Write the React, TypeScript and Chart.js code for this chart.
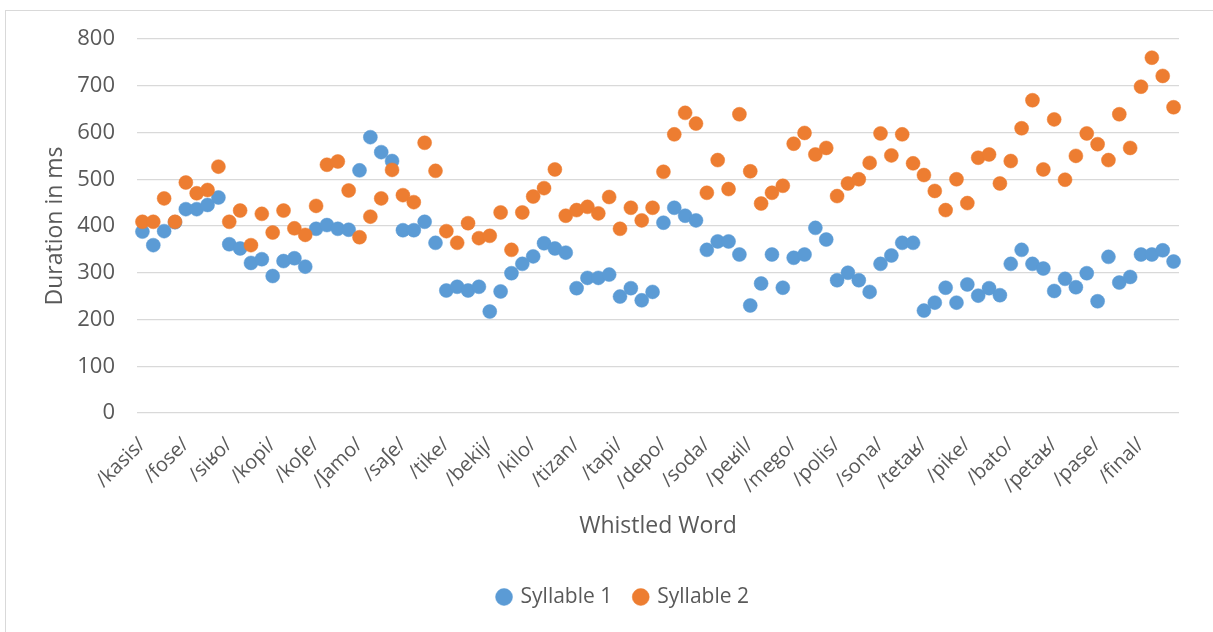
import React, { useEffect, useRef } from "react";
import { Chart, registerables } from "chart.js";

Chart.register(...registerables);

const words = [
  "/kasis/", "/fose/", "/siʁo/", "/kopi/", "/koʃe/", "/ʃamo/", "/saʃe/", "/tike/",
  "/bekij/", "/kilo/", "/tizan/", "/tapi/", "/depo/", "/soda/", "/peʁil/", "/mego/",
  "/polis/", "/sona/", "/tetaʁ/", "/pike/", "/bato/", "/petaʁ/", "/pase/", "/final/",
];

const syllable1 = [
  388, 359, 389, 408, 436, 436, 445, 461, 361, 352, 321, 329, 293, 325, 331, 313,
  394, 402, 394, 392, 519, 590, 558, 539, 391, 391, 409, 364, 262, 270, 262, 270,
  217, 260, 299, 319, 335, 363, 352, 343, 267, 289, 289, 296, 249, 267, 241, 259,
  407, 439, 422, 412, 349, 367, 367, 339, 230, 277, 339, 268, 332, 339, 396, 371,
  284, 300, 284, 259, 319, 337, 364, 364, 219, 236, 268, 236, 275, 251, 267, 252,
  319, 349, 319, 309, 261, 287, 269, 299, 239, 334, 279, 291, 339, 339, 348, 324,
];

const syllable2 = [
  409, 409, 459, 409, 493, 470, 477, 527, 409, 433, 359, 426, 386, 433, 395, 381,
  443, 531, 538, 476, 376, 420, 459, 520, 466, 451, 578, 518, 389, 364, 406, 374,
  379, 429, 349, 429, 463, 481, 521, 422, 434, 441, 427, 462, 394, 439, 412, 439,
  516, 596, 642, 619, 471, 541, 479, 639, 517, 448, 471, 486, 576, 599, 553, 567,
  464, 491, 500, 535, 598, 551, 596, 534, 509, 475, 434, 500, 449, 546, 553, 491,
  539, 609, 669, 521, 628, 499, 550, 598, 575, 541, 639, 567, 698, 760, 721, 654,
];

const wordsPerLabel = 4;
const yMin = 0;
const yMax = 800;
const yStep = 100;

const FONT = "'Open Sans', 'Noto Sans', sans-serif";
const TEXT = "#595959";
const GRID = "#d9d9d9";
const BLUE = "#5B9BD5";
const ORANGE = "#ED7D31";

export default function App() {
  const ref = useRef<HTMLCanvasElement>(null);

  useEffect(() => {
    const labels = words.flatMap((w) => Array(wordsPerLabel).fill(w));
    const chart = new Chart(ref.current as HTMLCanvasElement, {
      type: "line",
      data: {
        labels,
        datasets: [
          {
            label: "Syllable 1",
            data: syllable1,
            showLine: false,
            backgroundColor: BLUE,
            borderColor: BLUE,
            pointBackgroundColor: BLUE,
            pointBorderColor: BLUE,
            pointRadius: 7,
            pointHoverRadius: 7,
            pointBorderWidth: 0.5,
            order: 2,
          },
          {
            label: "Syllable 2",
            data: syllable2,
            showLine: false,
            backgroundColor: ORANGE,
            borderColor: ORANGE,
            pointBackgroundColor: ORANGE,
            pointBorderColor: ORANGE,
            pointRadius: 7,
            pointHoverRadius: 7,
            pointBorderWidth: 0.5,
            order: 1,
          },
        ],
      },
      options: {
        responsive: false,
        animation: false,
        devicePixelRatio: 1,
        layout: { padding: { top: 39, right: 34, bottom: 14.5, left: 68 } },
        plugins: {
          tooltip: { enabled: false },
          legend: {
            position: "bottom",
            labels: {
              usePointStyle: true,
              pointStyle: "circle",
              boxWidth: 12,
              boxHeight: 12,
              padding: 22.5,
              color: TEXT,
              font: { family: FONT, size: 21 },
              sort: (a: any, b: any) => a.datasetIndex - b.datasetIndex,
            },
          },
        },
        scales: {
          x: {
            type: "category",
            offset: true,
            grid: { display: false, drawTicks: false },
            border: { display: false },
            ticks: {
              autoSkip: false,
              maxRotation: 45,
              minRotation: 45,
              padding: 20,
              color: TEXT,
              font: { family: FONT, size: 20 },
              callback: (_v: any, i: number) => (i % wordsPerLabel === 0 ? labels[i] : ""),
            },
            title: {
              display: true,
              text: "Whistled Word",
              color: TEXT,
              font: { family: FONT, size: 23 },
              padding: { top: 0, bottom: 24 },
            },
            afterFit: (scale: any) => {
              scale.height = 151;
            },
          },
          y: {
            min: yMin,
            max: yMax,
            ticks: {
              stepSize: yStep,
              padding: 22,
              color: TEXT,
              font: { family: FONT, size: 22 },
            },
            grid: { color: GRID, lineWidth: 1.3, drawTicks: false },
            border: { display: false },
            title: {
              display: true,
              text: "Duration in ms",
              color: TEXT,
              font: { family: FONT, size: 23 },
              padding: { top: -26.8, bottom: 0 },
            },
            afterFit: (scale: any) => {
              scale.width = 69;
            },
          },
        },
      },
    });
    return () => chart.destroy();
  }, []);

  return (
    <div
      style={{
        position: "fixed",
        left: 0,
        top: 0,
        width: 1213,
        height: 632,
        overflow: "hidden",
        background: "#ffffff",
      }}
    >
      <div
        style={{
          position: "absolute",
          left: 5,
          top: 10,
          width: 1300,
          height: 700,
          border: "1px solid #d9d9d9",
        }}
      />
      <canvas
        ref={ref}
        width={1213}
        height={632}
        style={{ position: "absolute", left: 0, top: 0 }}
      />
    </div>
  );
}
